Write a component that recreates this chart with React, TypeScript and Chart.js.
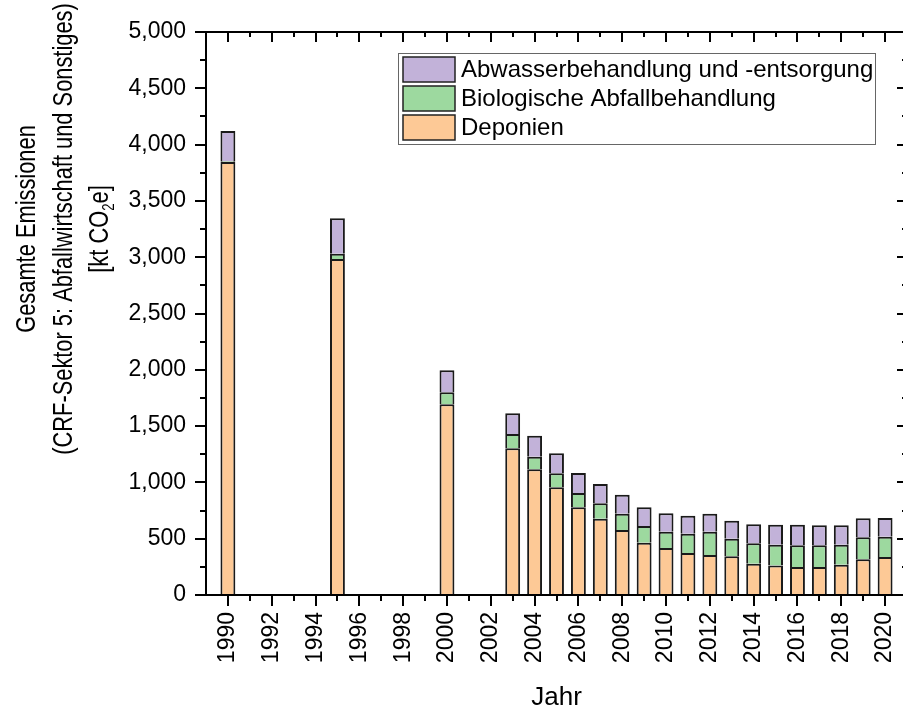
import React, { useEffect, useRef } from "react";
import { Chart, registerables } from "chart.js";

Chart.register(...registerables);

// Reporting years (only these carry bars on the continuous year axis)
const YEARS = [1990, 1995, 2000, 2003, 2004, 2005, 2006, 2007, 2008, 2009, 2010, 2011, 2012, 2013, 2014, 2015, 2016, 2017, 2018, 2019, 2020];

// Emissions in kt CO2e per sub-category
const DEPONIEN = [3845, 2985, 1695, 1303, 1116, 956, 779, 678, 577, 465, 417, 373, 355, 344, 278, 263, 249, 249, 269, 317, 337];
const BIOLOGISCH = [8, 45, 105, 127, 112, 125, 127, 136, 145, 148, 145, 171, 207, 156, 181, 184, 192, 192, 178, 195, 181];
const ABWASSER = [267, 315, 195, 184, 187, 177, 177, 172, 169, 166, 163, 160, 160, 160, 169, 177, 183, 178, 172, 169, 166];

const SERIES_LABELS = ["Deponien", "Biologische Abfallbehandlung", "Abwasserbehandlung und -entsorgung"];
const SERIES_COLORS = ["#FDC996", "#9DD99F", "#C2B2D9"];

const X_MIN = 1989;
const X_MAX = 2021;
const Y_MAX = 5000;

const FONT = "'Liberation Sans', Arial, sans-serif";

const toPoints = (vals: number[]) => YEARS.map((yr, i) => ({ x: yr, y: vals[i] }));

// Closed frame with outward ticks on bottom/left and inward ticks on top/right
const framePlugin = {
  id: "frame",
  afterDatasetsDraw(chart: any) {
    const { ctx, chartArea: a, scales } = chart;
    const x = scales.x;
    const y = scales.y;
    ctx.save();
    ctx.strokeStyle = "#000";
    ctx.lineWidth = 2;
    const seg = (x1: number, y1: number, x2: number, y2: number) => {
      ctx.beginPath();
      ctx.moveTo(x1, y1);
      ctx.lineTo(x2, y2);
      ctx.stroke();
    };
    ctx.strokeRect(a.left, a.top, a.right - a.left, a.bottom - a.top);
    for (let yr = 1990; yr <= 2020; yr++) {
      const px = Math.round(x.getPixelForValue(yr));
      const major = yr % 2 === 0;
      seg(px, a.bottom, px, a.bottom + (major ? 11 : 6));
      seg(px, a.top, px, a.top + (major ? 10 : 5));
    }
    for (let v = 0; v <= Y_MAX; v += 250) {
      const py = Math.round(y.getPixelForValue(v));
      const major = v % 500 === 0;
      seg(a.left - (major ? 11 : 6), py, a.left, py);
      seg(a.right - (major ? 10 : 5), py, a.right, py);
    }
    ctx.restore();
  },
};

// Axis titles and the boxed legend
const annotatePlugin = {
  id: "annotate",
  afterDraw(chart: any) {
    const { ctx, chartArea: a } = chart;
    ctx.save();
    ctx.fillStyle = "#000";

    // x title
    ctx.font = `26px ${FONT}`;
    ctx.textAlign = "center";
    ctx.textBaseline = "alphabetic";
    ctx.fillText("Jahr", (a.left + a.right) / 2, 705);

    // y title (three rotated lines, narrow set)
    const cy = 229;
    const size = 28;
    const squeeze = 0.78;
    const drawRot = (bx: number, parts: { t: string; sub?: boolean }[]) => {
      ctx.save();
      ctx.translate(bx, cy);
      ctx.rotate(-Math.PI / 2);
      ctx.scale(squeeze, 1);
      ctx.textAlign = "left";
      let total = 0;
      const widths = parts.map((p) => {
        ctx.font = `${p.sub ? Math.round(size * 0.62) : size}px ${FONT}`;
        const w = ctx.measureText(p.t).width;
        total += w;
        return w;
      });
      let cx = -total / 2;
      parts.forEach((p, i) => {
        ctx.font = `${p.sub ? Math.round(size * 0.62) : size}px ${FONT}`;
        ctx.fillText(p.t, cx, p.sub ? 6 : 0);
        cx += widths[i];
      });
      ctx.restore();
    };
    drawRot(35, [{ t: "Gesamte Emissionen" }]);
    drawRot(72, [{ t: "(CRF-Sektor 5: Abfallwirtschaft und Sonstiges)" }]);
    drawRot(108, [{ t: "[kt CO" }, { t: "2", sub: true }, { t: "e]" }]);

    // legend box
    ctx.strokeStyle = "#666";
    ctx.lineWidth = 1;
    ctx.strokeRect(398.5, 53.5, 477, 91);
    const order = [2, 1, 0];
    ctx.font = `24px ${FONT}`;
    ctx.textAlign = "left";
    ctx.textBaseline = "middle";
    order.forEach((di, i) => {
      const ds = chart.data.datasets[di];
      const top = 57 + i * 29;
      ctx.fillStyle = ds.backgroundColor;
      ctx.fillRect(403, top, 52, 25);
      ctx.strokeStyle = "#222";
      ctx.lineWidth = 1.5;
      ctx.strokeRect(403, top, 52, 25);
      ctx.fillStyle = "#000";
      ctx.fillText(ds.label, 461, top + 13);
    });
    ctx.restore();
  },
};

export default function App() {
  const canvasRef = useRef<HTMLCanvasElement | null>(null);

  useEffect(() => {
    const canvas = canvasRef.current;
    if (!canvas) return;
    const values = [DEPONIEN, BIOLOGISCH, ABWASSER];
    const chart = new Chart(canvas, {
      type: "bar",
      data: {
        datasets: values.map((vals, i) => ({
          label: SERIES_LABELS[i],
          data: toPoints(vals),
          backgroundColor: SERIES_COLORS[i],
          borderColor: "#1a1a1a",
          borderWidth: 2,
          categoryPercentage: 1,
          barPercentage: 0.68,
        })),
      },
      options: {
        responsive: false,
        animation: false,
        devicePixelRatio: 1,
        layout: { padding: { left: 0, top: 32, right: 5, bottom: 0 } },
        plugins: { legend: { display: false }, tooltip: { enabled: false } },
        scales: {
          x: {
            type: "linear",
            stacked: true,
            min: X_MIN,
            max: X_MAX,
            offset: false,
            grid: { display: true, drawOnChartArea: false, drawTicks: false },
            border: { display: false },
            afterFit: (s: any) => {
              s.height = 118;
              s.paddingLeft = 0;
              s.paddingRight = 0;
            },
            ticks: {
              stepSize: 1,
              autoSkip: false,
              minRotation: 90,
              maxRotation: 90,
              padding: 17,
              color: "#000",
              font: { family: FONT, size: 23 },
              callback: (v: any) => (Number(v) % 2 === 0 ? String(v) : ""),
            },
          },
          y: {
            stacked: true,
            min: 0,
            max: Y_MAX,
            grid: { display: true, drawOnChartArea: false, drawTicks: false },
            border: { display: false },
            afterFit: (s: any) => {
              s.width = 206;
              s.paddingTop = 0;
              s.paddingBottom = 0;
            },
            ticks: {
              stepSize: 500,
              padding: 20,
              color: "#000",
              font: { family: FONT, size: 23 },
              callback: (v: any) => Number(v).toLocaleString("en-US"),
            },
          },
        },
      },
      plugins: [framePlugin, annotatePlugin],
    } as any);
    return () => chart.destroy();
  }, []);

  return (
    <div
      style={{
        position: "fixed",
        left: 0,
        top: 0,
        width: 903,
        height: 713,
        overflow: "hidden",
        background: "#fff",
      }}
    >
      <canvas ref={canvasRef} width={912} height={713} style={{ display: "block" }} />
    </div>
  );
}
